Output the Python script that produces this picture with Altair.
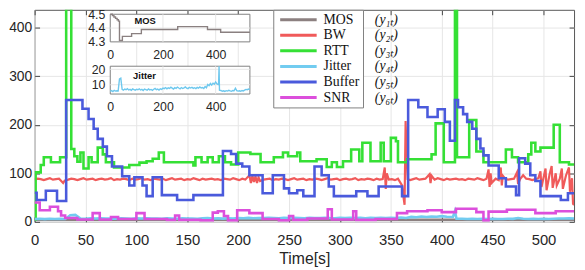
import altair as alt
import pandas as pd

# ---------------- values ----------------
SERIES = ["MOS", "BW", "RTT", "Jitter", "Buffer", "SNR"]
SUBSCRIPTS = ["(y\u2081\u209c)", "(y\u2082\u209c)", "(y\u2083\u209c)",
              "(y\u2084\u209c)", "(y\u2085\u209c)", "(y\u2086\u209c)"]
COLORS = ["#8c8080", "#f05a5a", "#35e035", "#72ccf0", "#4a5adc", "#dc4fdc"]
INTERP = {"MOS": "step-after", "BW": "linear", "RTT": "step-after",
          "Jitter": "linear", "Buffer": "step-after", "SNR": "step-after"}

X_TICKS = [0, 50, 100, 150, 200, 250, 300, 350, 400, 450, 500]
Y_TICKS = [0, 100, 200, 300, 400]
INSET_X_TICKS = [0, 200, 400]
INSET_X_GRID = [200, 400]
MOS_TICKS = [4.3, 4.4, 4.5]
MOS_GRID = [4.4]
JITTER_TICKS = [10, 20]
X_DOMAIN = [0, 530]
Y_DOMAIN = [0, 437]
MOS_DOMAIN = [4.3, 4.5]
JITTER_DOMAIN = [4, 22]

# MOS (step changes)
mos_t = [0, 8, 14, 20, 26, 31, 35, 46, 81, 118, 256, 369, 419, 530]
mos_v = [4.50, 4.49, 4.48, 4.47, 4.46, 4.45, 4.31, 4.34, 4.36, 4.39, 4.41, 4.39, 4.37, 4.37]

# BW: samples every 3 s, plus the visible spikes
bw_base_step = 3
bw_base = [
    87, 89, 88, 86, 88, 90, 87, 88, 89, 81, 88, 87, 89, 88, 86, 88, 90, 87, 88, 89,
    86, 88, 89, 87, 88, 90, 86, 88, 87, 89, 88, 86, 89, 87, 88, 90, 87, 88, 86, 89,
    88, 87, 89, 86, 88, 90, 87, 88, 89, 86, 88, 87, 90, 88, 86, 89, 87, 88, 89, 87,
    88, 86, 89, 88, 87, 90, 88, 86, 89, 87, 88, 89, 86, 88, 90, 87, 88, 89, 86, 88,
    87, 89, 88, 86, 88, 90, 87, 88, 89, 86, 88, 87, 89, 88, 86, 88, 90, 87, 88, 89,
    86, 88, 89, 87, 88, 90, 86, 88, 87, 89, 88, 86, 89, 87, 88, 90, 87, 88, 86, 89,
    88, 87, 89, 86, 88, 90, 87, 88, 89, 86, 88, 87, 90, 88, 86, 89, 87, 88, 89, 87,
    88, 86, 89, 88, 87, 90, 88, 86, 89, 87, 88, 89, 86, 88, 90, 87, 88, 89, 86, 88,
    87, 89, 88, 86, 88, 90, 87, 88, 89, 86, 88, 87, 89, 88, 86, 88, 90,
]
bw_spike_t = [28, 29.5, 211, 212.5, 214, 215.5, 217, 218.5, 220, 221.5, 344, 345, 346,
              361, 362.5, 363.5, 364.5, 365.5, 366.5, 388, 389, 390, 446, 447, 448, 449,
              458, 459, 460, 474, 475, 480, 497, 498, 502, 503, 506, 508, 509, 512, 513,
              518, 519, 522, 525, 526, 528, 529, 530]
bw_spike_v = [80, 85, 96, 80, 95, 82, 94, 80, 92, 84, 112, 68, 100,
              75, 50, 35, 208, 140, 88, 98, 80, 95, 108, 72, 100, 80,
              112, 75, 95, 102, 78, 96, 104, 72, 110, 65, 98, 115, 70, 100, 75,
              110, 68, 95, 112, 62, 90, 37, 35]

# RTT (step changes)
rtt_t = [0, 1, 6, 9, 16, 25, 31, 36, 39, 42, 45, 48, 53, 56, 62, 67, 70, 78, 93, 103,
         110, 116, 122, 127, 156, 158, 164, 170, 175, 181, 187, 193, 200, 212, 222, 235,
         244, 249, 258, 261, 277, 287, 292, 297, 303, 311, 319, 322, 330, 340, 343, 350,
         355, 357, 366, 390, 394, 402, 413, 415, 427, 434, 441, 463, 469, 475, 485, 488,
         492, 497, 510, 516, 525, 530]
rtt_v = [5, 102, 117, 133, 123, 133, 440, 150, 135, 124, 143, 110, 133, 123, 153, 139,
         123, 112, 117, 122, 125, 130, 143, 123, 116, 133, 123, 133, 123, 135, 123, 118,
         143, 140, 123, 133, 143, 135, 143, 125, 129, 113, 123, 113, 125, 149, 125, 163,
         125, 163, 125, 173, 166, 123, 129, 139, 203, 123, 470, 133, 210, 145, 123, 149,
         133, 123, 139, 163, 145, 153, 200, 123, 118, 118]

# Jitter: samples every 5 s, plus the spike near 413 s
jit_base_step = 5
jit_base = [
    5.8, 6.2, 5.6, 6.4, 5.9, 6.1, 6.0,
    13.8, 14.3, 7.0,
    6.5, 7.2, 6.8, 7.5, 6.6, 7.0, 6.4, 7.3, 6.9, 6.5, 7.1,
    6.8, 7.4, 6.6, 7.0, 6.3, 7.2, 6.9, 6.5, 7.3, 6.7, 7.0, 6.4, 7.1, 7.6, 6.8, 7.2, 6.6, 7.4, 7.0, 7.8,
    7.5, 8.2, 7.4, 8.0, 7.6, 8.4, 7.8, 7.2, 8.1, 7.7, 8.5, 7.9, 7.4, 8.2, 7.6, 8.0, 8.6, 7.8, 7.5, 8.3,
    7.9, 8.4, 7.7, 8.1, 7.5, 8.3, 7.8, 8.6, 7.9, 8.2, 7.6, 8.8, 8.0,
    10.2, 9.4, 10.8, 9.8, 11.0, 10.4, 11.8, 10.5, 9.6,
    6.0, 6.3, 5.8, 6.1, 5.7, 6.2, 5.9, 6.4, 6.0, 5.8, 6.3, 6.1, 7.8, 6.2, 5.9, 6.1, 5.8, 6.3,
    6.0, 6.5, 7.0, 6.8, 7.2, 7.0,
]
jit_spike_t = [411, 413, 414.5]
jit_spike_v = [10.0, 22.0, 6.5]

# Buffer (step changes)
buf_t = [0, 2, 11, 22, 31, 47, 53, 58, 62, 67, 71, 76, 86, 93, 98, 106, 110, 116, 125, 140,
         156, 185, 193, 198, 204, 211, 224, 234, 245, 250, 258, 264, 275, 282, 289, 294,
         316, 327, 338, 361, 367, 377, 386, 396, 403, 408, 413, 416, 421, 425, 430, 434,
         438, 441, 446, 456, 463, 473, 476, 482, 487, 492, 497, 517, 524, 530]
buf_v = [60, 45, 64, 43, 251, 233, 212, 192, 171, 155, 135, 114, 94, 75, 92, 75, 53, 92, 55,
         45, 55, 146, 140, 120, 114, 96, 59, 96, 69, 59, 65, 53, 114, 96, 73, 53, 63, 53, 73,
         53, 251, 236, 216, 232, 206, 167, 251, 236, 222, 206, 192, 171, 151, 137, 116, 90,
         73, 55, 131, 120, 96, 84, 53, 45, 59, 59]

# SNR (step changes)
snr_t = [0, 5, 15, 23, 26, 30, 42, 57, 64, 75, 82, 100, 108, 130, 138, 142, 163, 175, 180,
         186, 190, 199, 211, 224, 240, 250, 254, 268, 288, 292, 313, 316, 335, 356, 366,
         386, 400, 414, 434, 441, 446, 464, 492, 512, 530]
snr_v = [40, 24, 31, 22, 13, 8, 5, 18, 5, 10, 6, 18, 6, 4, 13, 4, 3, 19, 22, 12, 3, 24, 18,
         6, 3, 12, 4, 7, 26, 5, 22, 4, 6, 18, 22, 24, 20, 27, 20, 3, 21, 25, 18, 22, 22]

# inset annotation anchors (data units of each inset)
MOS_NOTE = {"t": 132, "v": 4.452, "text": "MOS"}
JIT_NOTE = {"t": 130, "v": 15.5, "text": "Jitter"}

# ---------------- layout (pixels) ----------------
W, H = 547, 215
INSET_X_RANGE = [76.7, 218.3]
MOS_Y_RANGE = [32.5, 4.5]
JIT_Y_RANGE = [85.4, 57.2]
FONT = "Liberation Sans"
SERIF = "Liberation Serif"


# ---------------- build tables ----------------
def steps(name, ts, vs):
    return [(name, t, v) for t, v in zip(ts, vs)]


def sampled(name, step, vals, sp_t, sp_v):
    base = [(i * step, v) for i, v in enumerate(vals)]
    base = [(t, v) for t, v in base if all(abs(t - s) > 1.5 for s in sp_t)]
    pts = sorted(base + list(zip(sp_t, sp_v)))
    return [(name, t, v) for t, v in pts]


rows = (steps("MOS", mos_t, mos_v)
        + sampled("BW", bw_base_step, bw_base, bw_spike_t, bw_spike_v)
        + steps("RTT", rtt_t, rtt_v)
        + sampled("Jitter", jit_base_step, jit_base, jit_spike_t, jit_spike_v)
        + steps("Buffer", buf_t, buf_v)
        + steps("SNR", snr_t, snr_v))
main_df = pd.DataFrame(rows, columns=["series", "t", "v"])
sub_of = dict(zip(SERIES, SUBSCRIPTS))
main_df["sub"] = main_df["series"].map(sub_of)

mos_df = main_df[main_df.series == "MOS"].reset_index(drop=True)
jit_df = main_df[main_df.series == "Jitter"].reset_index(drop=True)

# ---------------- main plot ----------------
x_main = alt.X("t:Q", scale=alt.Scale(domain=X_DOMAIN, nice=False, zero=False),
               axis=alt.Axis(orient="bottom", values=X_TICKS, title="Time[s]", grid=True,
                             gridColor="#e6e6e6", ticks=False, domain=False,
                             labelFont=FONT, labelFontSize=15, labelPadding=11,
                             labelColor="#262626", labelFlush=False, labelOverlap=False,
                             titleFont=FONT, titleFontSize=16, titleFontWeight="normal",
                             titleColor="#262626", titlePadding=3))
y_main = alt.Y("v:Q", scale=alt.Scale(domain=Y_DOMAIN, nice=False, zero=False),
               axis=alt.Axis(orient="left", values=Y_TICKS, title=None, grid=True,
                             gridColor="#e6e6e6", ticks=False, domain=False,
                             labelFont=FONT, labelFontSize=14, labelPadding=3,
                             labelColor="#262626", labelOverlap=False))

color_legend = alt.Legend(
    title=None, orient="none", legendX=242, legendY=0, padding=3,
    strokeColor="#808080", fillColor="white",
    symbolType="M-0.6,0H6.8", symbolSize=100, symbolStrokeWidth=3,
    labelFont=SERIF, labelFontSize=14, labelColor="#111111",
    labelOffset=34, rowPadding=1.8,
    labelExpr="datum.label + '" + "\u00a0" * 9 + "'",
)
shape_legend = alt.Legend(
    title=None, orient="none", legendX=324, legendY=0, padding=3,
    symbolSize=100, symbolOpacity=0, symbolStrokeWidth=0,
    labelFont=SERIF, labelFontSize=14, labelFontStyle="italic", labelColor="#111111",
    labelOffset=4, rowPadding=1.8,
)
color_enc = alt.Color("series:N", scale=alt.Scale(domain=SERIES, range=COLORS),
                      legend=color_legend)

line_layers = []
for name in SERIES:
    line_layers.append(
        alt.Chart(main_df)
        .transform_filter(alt.datum.series == name)
        .mark_line(interpolate=INTERP[name], strokeWidth=2.6 if name != "BW" else 2.2,
                   clip=True)
        .encode(x=x_main, y=y_main, color=color_enc)
    )
legend2_layer = (
    alt.Chart(main_df)
    .mark_point(opacity=0, clip=True)
    .encode(x=x_main, y=y_main,
            shape=alt.Shape("sub:N", scale=alt.Scale(domain=SUBSCRIPTS), legend=shape_legend))
)
main_layer = alt.layer(*line_layers, legend2_layer)

# inward tick marks on all four sides of the frame
tick_df = pd.DataFrame({"t": X_TICKS[:5], "v": Y_TICKS})
tick_axis = dict(labels=False, ticks=True, tickSize=5, tickColor="#444444",
                 domain=False, grid=False, title=None)
ticks_a = alt.Chart(tick_df).mark_point(opacity=0).encode(
    x=alt.X("t:Q", scale=alt.Scale(domain=X_DOMAIN, nice=False, zero=False),
            axis=alt.Axis(orient="bottom", offset=-H, values=X_TICKS, **tick_axis)),
    y=alt.Y("v:Q", scale=alt.Scale(domain=Y_DOMAIN, nice=False, zero=False),
            axis=alt.Axis(orient="left", offset=-W, values=Y_TICKS, **tick_axis)),
)
ticks_b = alt.Chart(tick_df).mark_point(opacity=0).encode(
    x=alt.X("t:Q", scale=alt.Scale(domain=X_DOMAIN, nice=False, zero=False),
            axis=alt.Axis(orient="top", offset=-H, values=X_TICKS, **tick_axis)),
    y=alt.Y("v:Q", scale=alt.Scale(domain=Y_DOMAIN, nice=False, zero=False),
            axis=alt.Axis(orient="right", offset=-W, values=Y_TICKS, **tick_axis)),
)


# ---------------- insets ----------------
def inset(df, domain, y_range, yticks, ygrid, yfmt, note, color):
    xs = alt.Scale(domain=X_DOMAIN, range=INSET_X_RANGE, nice=False, zero=False)
    ys = alt.Scale(domain=domain, range=y_range, nice=False, zero=False)
    xax = alt.Axis(orient="bottom", offset=y_range[0] - H, values=INSET_X_TICKS,
                   grid=False, ticks=False, domain=False, title=None,
                   labelFont=FONT, labelFontSize=12.5, labelPadding=7,
                   labelColor="#262626", labelFlush=False, labelOverlap=False)
    yax = alt.Axis(orient="left", offset=-INSET_X_RANGE[0], values=yticks, format=yfmt,
                   grid=False, ticks=False, domain=False, title=None,
                   labelFont=FONT, labelFontSize=12.5, labelPadding=5.5,
                   labelColor="#262626", labelOverlap=False)
    box_df = pd.DataFrame({"t": [X_DOMAIN[0]], "t1": [X_DOMAIN[1]],
                           "v": [domain[0]], "v1": [domain[1]]})
    box = alt.Chart(box_df).mark_rect(fill="white", stroke="#808080", strokeWidth=1).encode(
        x=alt.X("t:Q", scale=xs, axis=xax), x2="t1",
        y=alt.Y("v:Q", scale=ys, axis=yax), y2="v1")
    vgrid = alt.Chart(pd.DataFrame({"t": INSET_X_GRID, "v": domain[0], "v1": domain[1]})
                      ).mark_rule(color="#e6e6e6", strokeWidth=1).encode(
        x=alt.X("t:Q", scale=xs, axis=xax),
        y=alt.Y("v:Q", scale=ys, axis=yax), y2="v1")
    hgrid = alt.Chart(pd.DataFrame({"v": ygrid, "t": X_DOMAIN[0], "t1": X_DOMAIN[1]})
                      ).mark_rule(color="#e6e6e6", strokeWidth=1).encode(
        x=alt.X("t:Q", scale=xs, axis=xax), x2="t1",
        y=alt.Y("v:Q", scale=ys, axis=yax))
    line = alt.Chart(df).mark_line(interpolate=INTERP[df.series.iloc[0]], color=color,
                                   strokeWidth=1.4).encode(
        x=alt.X("t:Q", scale=xs, axis=xax),
        y=alt.Y("v:Q", scale=ys, axis=yax))
    label = alt.Chart(pd.DataFrame([note])).mark_text(
        font=FONT, fontSize=9.5, fontWeight="bold", color="#111111", align="center",
        baseline="middle").encode(
        x=alt.X("t:Q", scale=xs, axis=xax),
        y=alt.Y("v:Q", scale=ys, axis=yax), text="text:N")
    return alt.layer(box, vgrid, hgrid, line, label)


mos_inset = inset(mos_df, MOS_DOMAIN, MOS_Y_RANGE, MOS_TICKS, MOS_GRID, ".1f",
                  MOS_NOTE, "#8a8080")
jit_inset = inset(jit_df, JITTER_DOMAIN, JIT_Y_RANGE, JITTER_TICKS, JITTER_TICKS, "d",
                  JIT_NOTE, "#6ec8ee")

chart = (
    alt.layer(main_layer, ticks_a, ticks_b, mos_inset, jit_inset)
    .resolve_scale(x="independent", y="independent")
    .properties(width=W, height=H,
                autosize=alt.AutoSizeParams(type="none"),
                padding={"left": 27, "top": 0, "right": 3, "bottom": 47},
                background="white")
    .configure_view(stroke="#555555", strokeWidth=1)
)

chart.save("out.html", embed_options={"renderer": "svg", "actions": False})
